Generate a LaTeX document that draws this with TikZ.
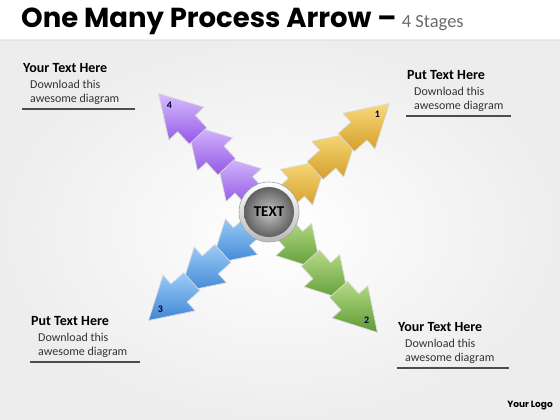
\documentclass[tikz,border=0pt]{standalone}
\usepackage{fontspec}
\setmainfont{Carlito}
\newfontfamily\headfont{Poppins}
\usepackage{tikz}
\usetikzlibrary{calc,positioning}

\definecolor{yelL}{HTML}{F8DA7A}
\definecolor{yelD}{HTML}{D59E2A}
\definecolor{grnL}{HTML}{B6DB86}
\definecolor{grnD}{HTML}{5E9A34}
\definecolor{bluL}{HTML}{9CCCF6}
\definecolor{bluD}{HTML}{3F86D6}
\definecolor{purL}{HTML}{D7BDFD}
\definecolor{purD}{HTML}{9357E6}

\tikzset{
    stagepiece/.style = {draw=white!70!gray, line width=0.7pt, line join=round},
    stagenum/.style = {inner sep=0pt, text=black!80!blue,
        font=\bfseries\fontsize{10}{10}\selectfont},
    blockhead/.style = {anchor=west, inner sep=0pt,
        font=\bfseries\fontsize{14}{14}\selectfont},
    blocktext/.style = {anchor=west, inner sep=0pt, text=black!80,
        font=\fontsize{12}{12}\selectfont},
    blockrule/.style = {draw=black!70, line width=1.2pt}
}

\begin{document}
\begin{tikzpicture}[x=1pt,y=-1pt]
        \useasboundingbox (0,0) rectangle (560,420);
        \fill[white] (0,0) rectangle (560,420);
        \shade[inner color=white, outer color=gray!14] (0,40) rectangle (560,420);
        \draw[gray!20] (0,40) -- (560,40);
        % title
        \node[anchor=base west, inner sep=0pt,
              font=\headfont\bfseries\fontsize{27.5}{27.5}\selectfont] (title) at (21,28)
              {One Many Process Arrow –};
        \node[anchor=base west, inner sep=0pt, text=gray!85!black,
              font=\fontsize{18.5}{18.5}\selectfont] (stages) at ([xshift=5pt]title.base east)
              {4 Stages};
        % arms
        \coordinate (hub) at (269,212);
        \foreach \ang/\lite/\dark/\num in {42/yelL/yelD/1,-48/grnL/grnD/2,222/bluL/bluD/3,133/purL/purD/4}
            {\begin{scope}[shift={(hub)},rotate=\ang]
             \foreach \d in {78,120,162}
                {\path[stagepiece,top color=\lite,bottom color=\dark]
                    (\d,0) -- ++(-41,24) -- ++(0,-12) -- ++(-17,0) -- ++(0,-24)
                    -- ++(17,0) -- ++(0,-12) -- cycle;}
             \node[stagenum] (num\num) at (146,0) {\num};
             \end{scope}}
        % centre
        \node[circle,minimum size=60pt,top color=white,bottom color=gray!55,
              draw=gray!70,line width=0.6pt] (ring) at (hub) {};
        \node[circle,minimum size=50pt,inner color=gray!45,outer color=gray!75!black,
              font=\bfseries\fontsize{15}{15}\selectfont] (core) at (hub) {TEXT};
        % text blocks
        \foreach \bx/\by/\head/\len [count=\i] in
            {23/68/Your Text Here/113,407/75/Put Text Here/105,
             31/321/Put Text Here/110,398/327/Your Text Here/112}
            {\node[blockhead] (head\i) at (\bx,\by) {\head};
             \node[blocktext] (body\i) at ([xshift=7pt,yshift=-16.5pt]head\i.west) {Download this};
             \node[blocktext] (more\i) at ([yshift=-15pt]body\i.west) {awesome diagram};
             \draw[blockrule] ([xshift=-1pt,yshift=-41pt]head\i.west) -- ++(\len,0);}
        \node[font=\headfont\bfseries\fontsize{9}{9}\selectfont] (logo) at (530,406) {Your Logo};
\end{tikzpicture}
\end{document}
